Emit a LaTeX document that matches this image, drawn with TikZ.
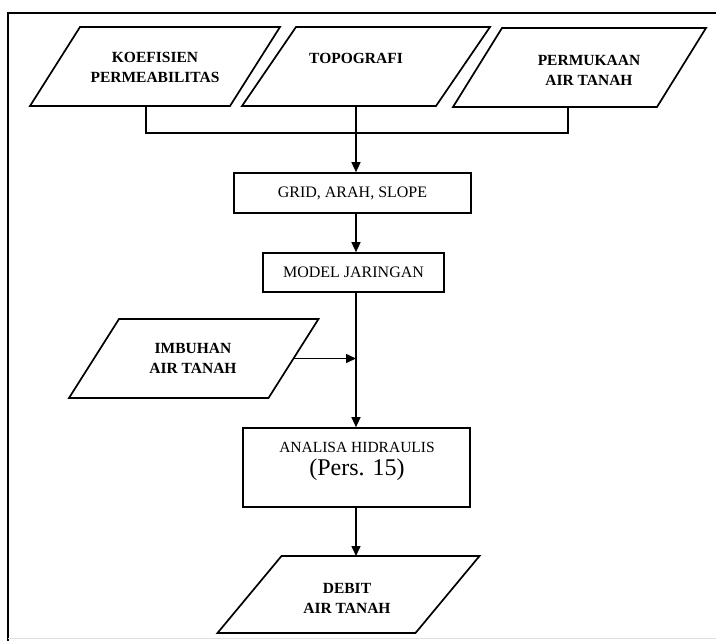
\documentclass[tikz,border=0pt]{standalone}
\usepackage{fontspec}
\setmainfont{Liberation Serif}
\usetikzlibrary{arrows.meta,calc}
% draws a parallelogram on the frame of node #1, top edge shifted right by 2*#2
\newcommand\slantframe[2]{%
  \draw[line width=1.7pt, line join=miter]
    ($(#1.north west)+(#2,0)$) -- ($(#1.north east)+(#2,0)$) --
    ($(#1.south east)+(-#2,0)$) -- ($(#1.south west)+(-#2,0)$) -- cycle;}
\begin{document}
\begin{tikzpicture}[x=1pt,y=-1pt,
  para/.style={rectangle, inner sep=0pt, outer sep=0pt, minimum height=79pt},
  stepbox/.style={draw, rectangle, line width=1.7pt, inner sep=0pt,
    font=\fontsize{16}{19}\selectfont},
  lbl/.style={align=center, inner sep=0pt,
    font=\bfseries\fontsize{15.5}{20}\selectfont},
  conn/.style={line width=1.5pt},
  arr/.style={line width=1.5pt, -{Triangle[length=10pt,width=9pt]}}]
\useasboundingbox (0,0) rectangle (716,641);
\fill[white] (0,0) rectangle (716,641);

% page frame
\draw[line width=2pt] (716,12.5) -- (8,12.5) -- (8,641);
\draw[line width=1pt, black!12] (8,638) -- (716,638);

% input data
\node[para, minimum width=200pt] (p1) at (155,66.5) {};
\node[para, minimum width=194pt] (p2) at (366,66.5) {};
\node[para, minimum width=204pt] (p3) at (579.5,67.5) {};
\slantframe{p1}{25}
\slantframe{p2}{27}
\slantframe{p3}{24.5}
\node[lbl] (t1) at (155,67.5) {KOEFISIEN\\PERMEABILITAS};
\node[lbl] (t2) at (356,58) {TOPOGRAFI};
\node[lbl] (t3) at (589,70) {PERMUKAAN\\AIR TANAH};

% processing steps
\node[stepbox, minimum width=237pt, minimum height=40pt] (grid) at (352.5,193) {GRID, ARAH, SLOPE};
\node[stepbox, minimum width=181pt, minimum height=39pt] (model) at (353.5,272.5) {MODEL JARINGAN};
\node[stepbox, minimum width=227pt, minimum height=79pt] (ana) at (356.5,467.5) {};
\node[inner sep=0pt, font=\fontsize{15.5}{18}\selectfont] (t5) at (357,447) {ANALISA HIDRAULIS};
\node[inner sep=0pt, font=\fontsize{24}{28}\selectfont] (t6) at (357,470) {(Pers. 15)};

% recharge and output
\node[para, minimum width=199.5pt] (imb) at (193.75,358.5) {};
\slantframe{imb}{25}
\node[lbl] (t4) at (193,358) {IMBUHAN\\AIR TANAH};
\node[para, minimum width=198pt, minimum height=77pt] (deb) at (348.5,594.5) {};
\slantframe{deb}{32}
\node[lbl] (t7) at (347,598) {DEBIT\\AIR TANAH};

% connectors
\coordinate (jl) at (146,133);
\coordinate (jr) at (568,133);
\coordinate (jm) at (356,133);
\draw[conn] (p1.south -| jl) -- (jl) -- (jr) -- (p3.south -| jr);
\draw[arr] (p2.south -| jm) -- (grid.north -| jm);
\draw[arr] (grid.south -| jm) -- (model.north -| jm);
\draw[arr] (model.south -| jm) -- (ana.north -| jm);
\draw[arr] (imb.east) -- (imb.east -| jm);
\draw[arr] (ana.south -| jm) -- (deb.north -| jm);
\end{tikzpicture}
\end{document}
